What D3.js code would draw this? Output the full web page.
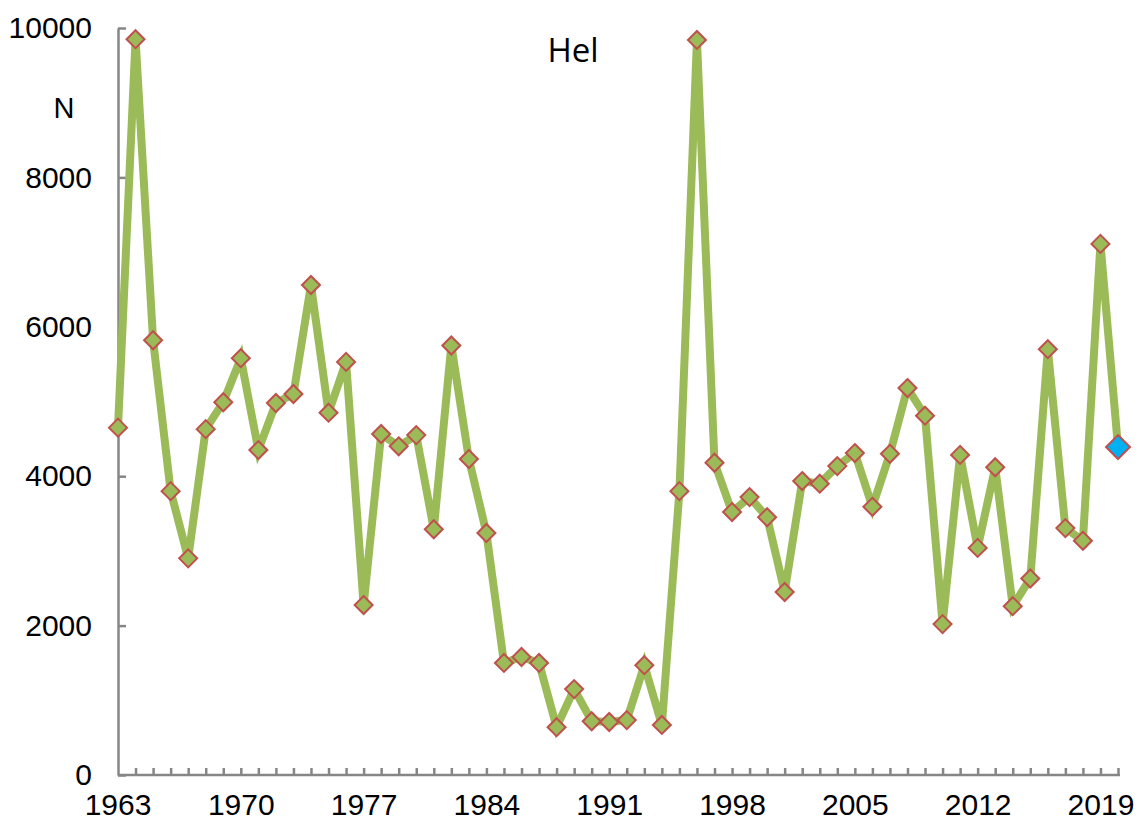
<!DOCTYPE html>
<html>
<head>
<meta charset="utf-8">
<script src="https://cdn.jsdelivr.net/npm/d3@7"></script>
<style>
  body { margin: 0; background: #fff; }
  .axis text { font-family: "Liberation Sans", Arial, sans-serif; font-size: 30px; fill: #000; }
  .axis path, .axis line { stroke: #868686; stroke-width: 2.5; }
</style>
</head>
<body>
<svg id="chart"></svg>
<script>
const years = d3.range(1963, 2021)
const counts = [
  4650, 9850, 5820, 3800, 2900, 4630, 4990, 5580, 4350, 4980,
  5100, 6560, 4850, 5530, 2275, 4565, 4400, 4550, 3290, 5750,
  4230, 3240, 1500, 1580, 1500, 640, 1150, 720, 710, 735,
  1470, 670, 3800, 9840, 4180, 3520, 3720, 3450, 2450, 3935,
  3900, 4135, 4310, 3590, 4300, 5180, 4810, 2020, 4285, 3040,
  4120, 2260, 2630, 5700, 3305, 3135, 7110, 4390
]
const yTicks = [0, 2000, 4000, 6000, 8000, 10000]
const labelYears = [1963, 1970, 1977, 1984, 1991, 1998, 2005, 2012, 2019]
const lastYear = 2020

const width = 1139, height = 825
const svg = d3.select('#chart')
  .attr('width', width)
  .attr('height', height)

const x = d3.scaleLinear().domain([1963, 2020]).range([118, 1118])
const y = d3.scaleLinear().domain([0, 10000]).range([775, 28])

const yAxis = d3.axisLeft(y)
  .tickValues(yTicks)
  .tickSizeInner(-8)
  .tickSizeOuter(0)
  .tickPadding(26)
  .tickFormat(d3.format('d'))

svg.append('g')
  .attr('class', 'axis')
  .attr('transform', `translate(${x(1963)},0)`)
  .call(yAxis)

const xAxis = d3.axisBottom(x)
  .tickValues(years.slice(1))
  .tickSizeInner(-7)
  .tickSizeOuter(0)
  .tickPadding(19)
  .tickFormat(d => labelYears.includes(d) ? d : '')

const gx = svg.append('g')
  .attr('class', 'axis')
  .attr('transform', `translate(0,${y(0)})`)
  .call(xAxis)

// 1963 label sits at the axis corner
gx.append('text')
  .attr('x', x(1963))
  .attr('y', 19)
  .attr('dy', '0.71em')
  .attr('text-anchor', 'middle')
  .text('1963')

gx.select('.domain').attr('d', `M${x(1963)},0H${x(2020) + 2}`)

const data = years.map((yr, i) => ({ year: yr, value: counts[i] }))

const line = d3.line()
  .x(d => x(d.year))
  .y(d => y(d.value))

svg.append('path')
  .datum(data)
  .attr('fill', 'none')
  .attr('stroke', '#9bbb59')
  .attr('stroke-width', 8)
  .attr('stroke-linejoin', 'miter')
  .attr('d', line)

const diamond = s => `M0,${-s}L${s},0L0,${s}L${-s},0Z`

svg.selectAll('.marker')
  .data(data)
  .enter().append('path')
    .attr('class', 'marker')
    .attr('transform', d => `translate(${x(d.year)},${y(d.value)})`)
    .attr('d', d => d.year === lastYear ? diamond(12) : diamond(9))
    .attr('fill', d => d.year === lastYear ? '#00b0f0' : '#9bbb59')
    .attr('stroke', '#c0504d')
    .attr('stroke-width', 2)

svg.append('text')
  .attr('x', 573)
  .attr('y', 62)
  .attr('text-anchor', 'middle')
  .attr('font-family', '"Open Sans", sans-serif')
  .attr('font-size', 33)
  .text('Hel')

svg.append('text')
  .attr('x', 64)
  .attr('y', 118)
  .attr('text-anchor', 'middle')
  .attr('font-family', '"Liberation Sans", Arial, sans-serif')
  .attr('font-size', 29)
  .text('N')
</script>
</body>
</html>
